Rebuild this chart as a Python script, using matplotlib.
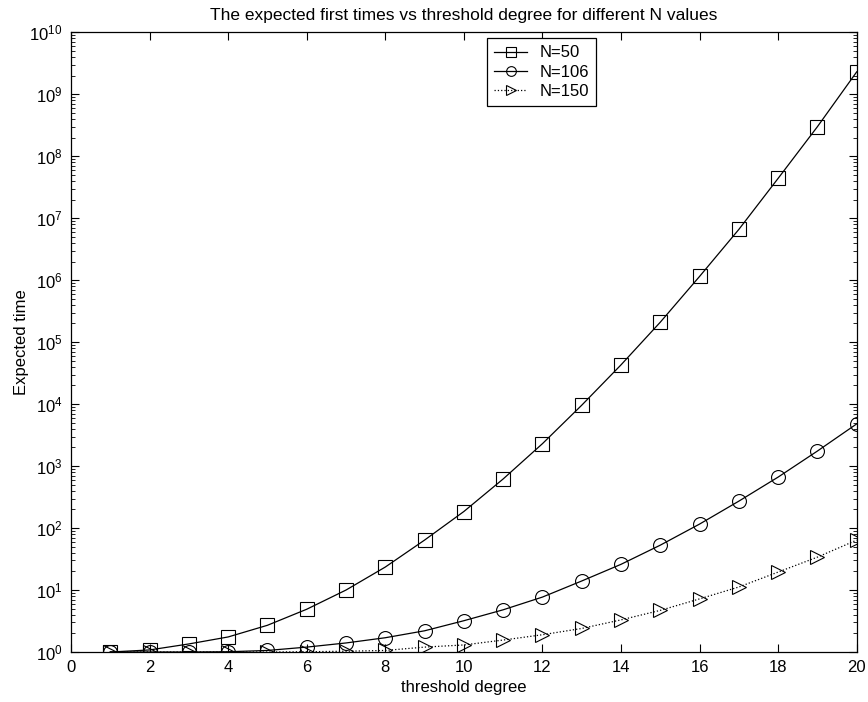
import matplotlib
matplotlib.use('Agg')
import matplotlib.pyplot as plt
from matplotlib.ticker import LogLocator, FixedLocator, NullFormatter

# threshold degree 1..20
degree = list(range(1, 21))

# expected first times
t_n50 = [1.0, 1.08, 1.35, 1.75, 2.7, 4.9, 10, 23.5, 64, 185,
         620, 2300, 9600, 4.3e4, 2.1e5, 1.15e6, 6.6e6, 4.4e7, 3.0e8, 2.3e9]
t_n106 = [1.0, 1.0, 1.0, 1.01, 1.06, 1.2, 1.4, 1.7, 2.2, 3.2,
          4.8, 7.7, 14, 26, 53, 116, 272, 665, 1750, 4800]
t_n150 = [1.0, 1.0, 1.0, 1.0, 1.0, 1.01, 1.03, 1.06, 1.2, 1.3,
          1.56, 1.9, 2.4, 3.3, 4.7, 7.2, 11.2, 19.5, 34, 64]

x_ticks = list(range(0, 21, 2))
y_ticks = [10.0 ** k for k in range(0, 11)]

plt.rcParams['font.family'] = ['Liberation Sans', 'DejaVu Sans']
plt.rcParams['font.size'] = 12
plt.rcParams['mathtext.fontset'] = 'custom'
plt.rcParams['mathtext.rm'] = 'Liberation Sans'

fig = plt.figure(figsize=(8.68, 7.02), dpi=100)
ax = fig.add_axes([0.0818, 0.0712, 0.9052, 0.8828])

mk = dict(mfc='none', mec='black', ms=10, mew=0.8)
ax.plot(degree, t_n50, '-', color='black', lw=0.9, marker='s', label='N=50', **mk)
ax.plot(degree, t_n106, '-', color='black', lw=0.9, marker='o', label='N=106', **mk)
ax.plot(degree, t_n150, ':', color='black', lw=0.9, marker='>', label='N=150', **mk)

ax.set_yscale('log')
ax.set_xlim(0, 20)
ax.set_ylim(1, 1e10)
ax.xaxis.set_major_locator(FixedLocator(x_ticks))
ax.yaxis.set_major_locator(FixedLocator(y_ticks))
ax.yaxis.set_minor_locator(LogLocator(base=10, subs=range(2, 10), numticks=20))
ax.yaxis.set_minor_formatter(NullFormatter())
ax.tick_params(which='both', direction='in', top=True, right=True)
ax.tick_params(which='major', length=6, width=0.8, labelsize=12, pad=6)
ax.tick_params(which='minor', length=3, width=0.6)
for s in ax.spines.values():
    s.set_linewidth(0.9)

ax.set_xlabel('threshold degree', labelpad=3)
ax.set_ylabel('Expected time', labelpad=0)
ax.set_title('The expected first times vs threshold degree for different N values',
             fontsize=12.5, pad=9)

leg = ax.legend(loc='upper left', bbox_to_anchor=(0.529, 0.991), fancybox=False,
                edgecolor='black', framealpha=1, borderaxespad=0, fontsize=12,
                handlelength=2.0, handletextpad=0.7, borderpad=0.45,
                labelspacing=0.25, markerscale=0.7)
leg.get_frame().set_linewidth(0.9)

fig.savefig('out.png', dpi=100)
